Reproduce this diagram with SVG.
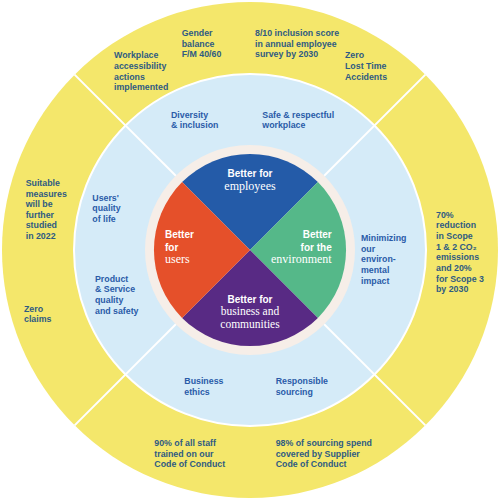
<svg xmlns="http://www.w3.org/2000/svg" width="500" height="500" viewBox="0 0 500 500">
<style>
.t{font-family:"Liberation Sans",Arial,sans-serif;font-weight:bold;font-size:8.8px}
.y{fill:#2F5B82}
.b{fill:#2A5BA8}
.c{font-family:"Liberation Sans",Arial,sans-serif;font-weight:bold;font-size:10px;fill:#fff}
.s{font-family:"Liberation Serif","Times New Roman",serif;font-size:12px;fill:#fff}
.s2{font-family:"Liberation Serif","Times New Roman",serif;font-size:11.5px;fill:#fff}
.div{stroke:#fff;stroke-width:2;fill:none}
</style>
<rect width="500" height="500" fill="#fff"/>
<g id="rings">
<circle cx="250" cy="250" r="248" fill="#F4E76B"/>
<circle cx="250" cy="250" r="176" fill="#D5EBF8" stroke="#fff" stroke-width="2"/>
<circle cx="250" cy="250" r="105" fill="#F6EEE8"/>
</g>
<g id="connectors">
<line class="div" x1="324.2" y1="175.8" x2="425.4" y2="74.6"/>
<line class="div" x1="324.2" y1="324.2" x2="425.4" y2="425.4"/>
<line class="div" x1="175.8" y1="324.2" x2="74.6" y2="425.4"/>
<line class="div" x1="175.8" y1="175.8" x2="74.6" y2="74.6"/>
</g>
<g id="employees">
<path d="M250 250 L182.1 182.1 A96 96 0 0 1 317.9 182.1 Z" fill="#245BA8"/>
<text class="c" x="250" y="177.3" text-anchor="middle">Better for</text>
<text class="s" x="250" y="190" text-anchor="middle">employees</text>
</g>
<g id="environment">
<path d="M250 250 L317.9 182.1 A96 96 0 0 1 317.9 317.9 Z" fill="#55B889"/>
<text class="c" x="331.7" y="238.3" text-anchor="end">Better</text>
<text class="c" x="331.7" y="250.7" text-anchor="end">for the</text>
<text class="s" x="331.7" y="262.7" text-anchor="end">environment</text>
</g>
<g id="business">
<path d="M250 250 L317.9 317.9 A96 96 0 0 1 182.1 317.9 Z" fill="#582A84"/>
<text class="c" x="250" y="302.7" text-anchor="middle">Better for</text>
<text class="s2" x="250" y="314.5" text-anchor="middle">business and</text>
<text class="s2" x="250" y="327.5" text-anchor="middle">communities</text>
</g>
<g id="users">
<path d="M250 250 L182.1 317.9 A96 96 0 0 1 182.1 182.1 Z" fill="#E5502A"/>
<text class="c" x="165" y="238.3">Better</text>
<text class="c" x="165" y="250.7">for</text>
<text class="s" x="165" y="262.7">users</text>
</g>
<g id="diversity" class="t b"><text x="171" y="117.7">Diversity</text><text x="171" y="128.3">&amp; inclusion</text></g>
<g id="safe" class="t b"><text x="262.3" y="117.7">Safe &amp; respectful</text><text x="262.3" y="128.3">workplace</text></g>
<g id="quality-of-life" class="t b"><text x="92.3" y="200.7">Users'</text><text x="92.3" y="211.3">quality</text><text x="92.3" y="222">of life</text></g>
<g id="product-safety" class="t b"><text x="95" y="281.7">Product</text><text x="95" y="292.3">&amp; Service</text><text x="95" y="303">quality</text><text x="95" y="313.7">and safety</text></g>
<g id="minimizing" class="t b"><text x="361" y="241">Minimizing</text><text x="361" y="251.7">our</text><text x="361" y="262.3">environ-</text><text x="361" y="273">mental</text><text x="361" y="283.7">impact</text></g>
<g id="ethics" class="t b"><text x="184.3" y="384.3">Business</text><text x="184.3" y="395">ethics</text></g>
<g id="sourcing" class="t b"><text x="275.7" y="384.3">Responsible</text><text x="275.7" y="395">sourcing</text></g>
<g id="gender" class="t y"><text x="181.7" y="36">Gender</text><text x="181.7" y="46.7">balance</text><text x="181.7" y="57.3">F/M 40/60</text></g>
<g id="inclusion-score" class="t y"><text x="255" y="36">8/10 inclusion score</text><text x="255" y="46.7">in annual employee</text><text x="255" y="57.3">survey by 2030</text></g>
<g id="accessibility" class="t y"><text x="114" y="58.3">Workplace</text><text x="114" y="69">accessibility</text><text x="114" y="79.7">actions</text><text x="114" y="90.3">implemented</text></g>
<g id="lost-time" class="t y"><text x="345" y="58.3">Zero</text><text x="345" y="69">Lost Time</text><text x="345" y="79.7">Accidents</text></g>
<g id="suitable" class="t y"><text x="25.7" y="186">Suitable</text><text x="25.7" y="196.7">measures</text><text x="25.7" y="207.3">will be</text><text x="25.7" y="217.7">further</text><text x="25.7" y="228.3">studied</text><text x="25.7" y="239">in 2022</text></g>
<g id="zero-claims" class="t y"><text x="24" y="311.7">Zero</text><text x="24" y="322.3">claims</text></g>
<g id="emissions" class="t y"><text x="436" y="217.7">70%</text><text x="436" y="228.3">reduction</text><text x="436" y="239">in Scope</text><text x="436" y="249.7">1 &amp; 2 CO₂</text><text x="436" y="260.3">emissions</text><text x="436" y="271">and 20%</text><text x="436" y="281.7">for Scope 3</text><text x="436" y="292.3">by 2030</text></g>
<g id="staff-trained" class="t y"><text x="154.3" y="446">90% of all staff</text><text x="154.3" y="456.7">trained on our</text><text x="154.3" y="467.3">Code of Conduct</text></g>
<g id="sourcing-spend" class="t y"><text x="275.7" y="446">98% of sourcing spend</text><text x="275.7" y="456.7">covered by Supplier</text><text x="275.7" y="467.3">Code of Conduct</text></g>
</svg>
